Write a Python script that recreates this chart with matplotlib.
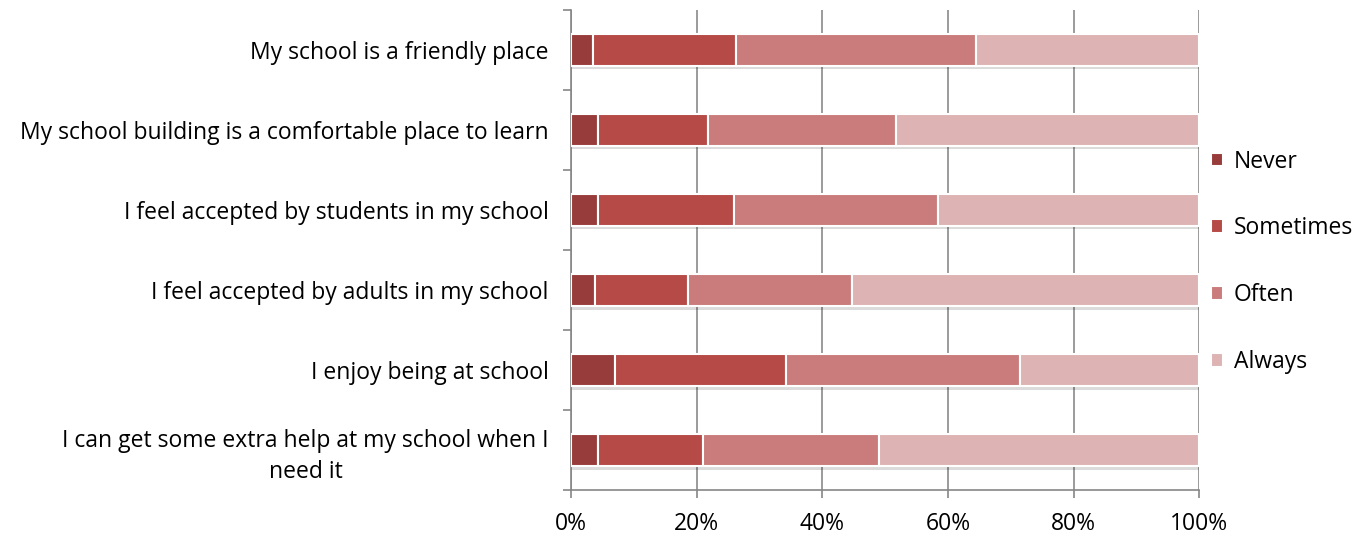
import matplotlib.pyplot as plt
import numpy as np

plt.rcParams['font.family'] = ['Open Sans', 'DejaVu Sans']

questions = [
    "My school is a friendly place",
    "My school building is a comfortable place to learn",
    "I feel accepted by students in my school",
    "I feel accepted by adults in my school",
    "I enjoy being at school",
    "I can get some extra help at my school when I\nneed it",
]
never = [3.6, 4.3, 4.3, 3.8, 7.1, 4.3]
sometimes = [22.6, 17.6, 21.6, 14.8, 27.1, 16.8]
often = [38.3, 29.9, 32.6, 26.1, 37.2, 28.0]
always = [35.5, 48.2, 41.5, 55.3, 28.6, 50.9]

series = [("Never", never, "#973c3a"),
          ("Sometimes", sometimes, "#b54a47"),
          ("Often", often, "#c97c7b"),
          ("Always", always, "#deb3b3")]

fig = plt.figure(figsize=(13.69, 5.38), dpi=100)
ax = fig.add_axes([0.417, 0.089, 0.459, 0.893])

y = np.arange(len(questions))
height = 0.4

# soft shadow under each bar
totals = np.sum([s[1] for s in series], axis=0)
ax.barh(y + 0.045, totals, height=height, color="#000000", alpha=0.14,
        zorder=2, linewidth=0)

left = np.zeros(len(questions))
for name, vals, col in series:
    ax.barh(y, vals, left=left, height=height, color=col, label=name,
            edgecolor="white", linewidth=1.5, zorder=3)
    left += np.array(vals)

ax.set_xlim(0, 100)
ax.set_ylim(len(questions) - 0.5, -0.5)
ax.set_xticks(range(0, 101, 20))
ax.set_xticklabels([f"{v}%" for v in range(0, 101, 20)], fontsize=16.5)
ax.set_yticks(y)
ax.set_yticklabels(questions, fontsize=16.5, multialignment="center",
                   linespacing=1.4)
ax.set_yticks(np.arange(-0.5, len(questions), 1), minor=True)
ax.tick_params(axis="y", which="major", length=0, pad=16)
ax.tick_params(axis="y", which="minor", length=6, color="#868686", width=1.2)
ax.tick_params(axis="x", length=6, color="#868686", width=1.2, pad=10)

ax.grid(axis="x", color="#8a8a8a", linewidth=1.2, zorder=0)
ax.set_axisbelow(True)
for side in ["top", "right"]:
    ax.spines[side].set_visible(False)
for side in ["left", "bottom"]:
    ax.spines[side].set_color("#868686")
    ax.spines[side].set_linewidth(1.2)

ax.legend(loc="center left", bbox_to_anchor=(1.0, 0.475), frameon=False,
          fontsize=16.5, handlelength=0.55, handleheight=0.55,
          handletextpad=0.45, labelspacing=1.87, borderaxespad=0.1)

fig.savefig("out.png", dpi=100)
